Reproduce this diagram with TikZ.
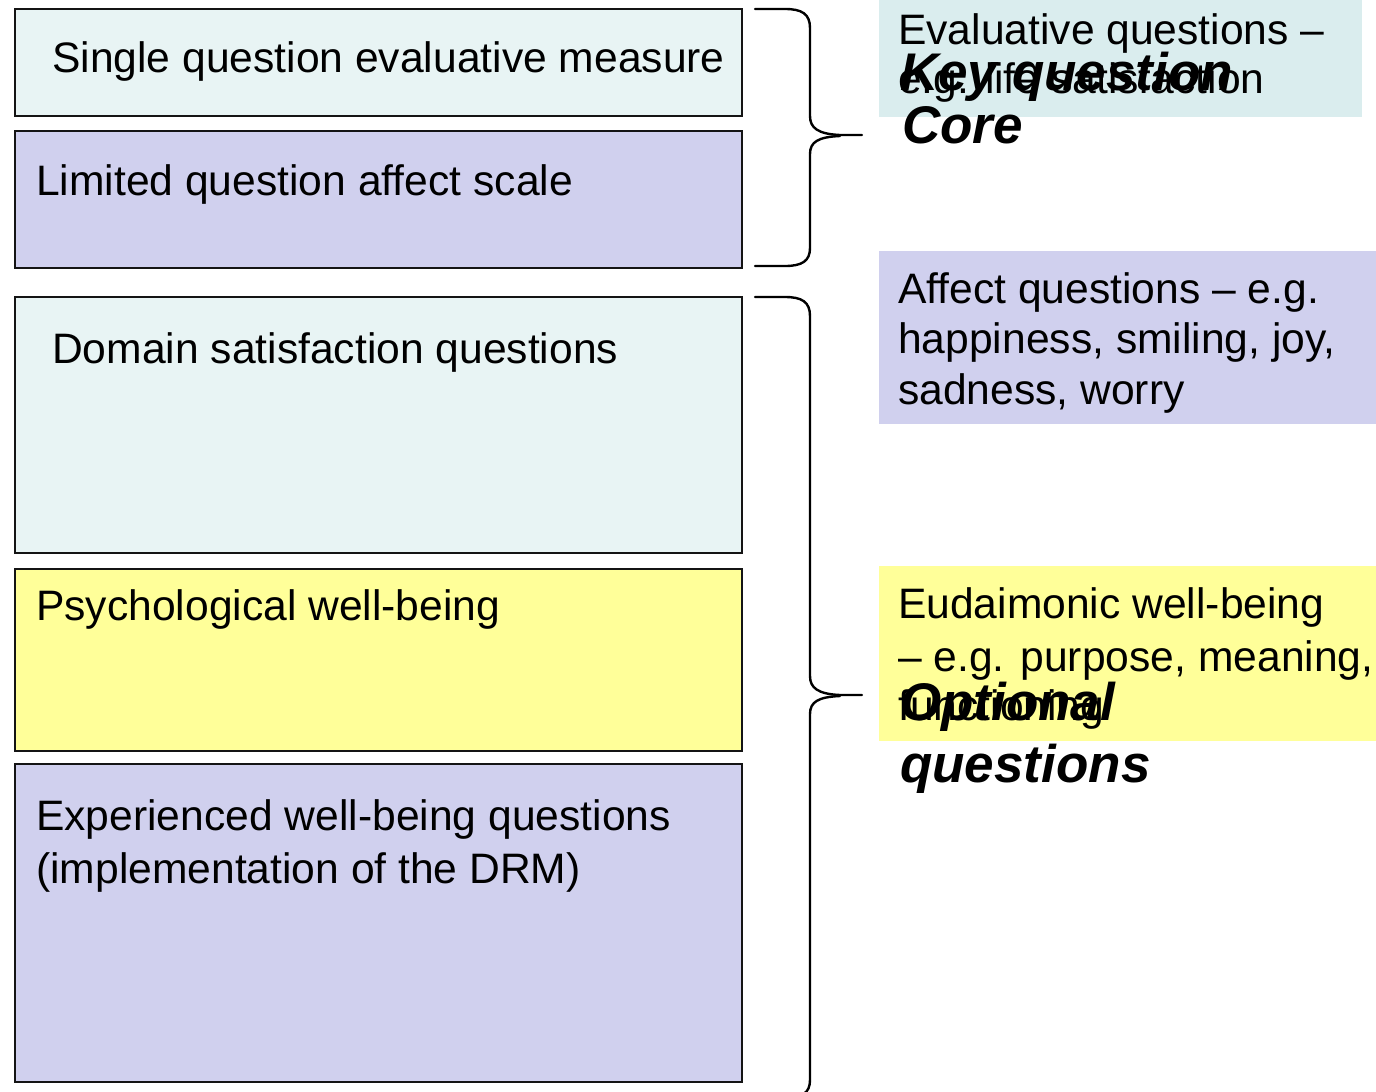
\documentclass[tikz,border=0pt]{standalone}
\usepackage{fontspec}
\setmainfont{Liberation Sans}
\definecolor{paleteal}{HTML}{E8F4F4}
\definecolor{tealnote}{HTML}{DAEDEE}
\definecolor{lavender}{HTML}{D0D0EE}
\definecolor{softyellow}{HTML}{FFFF99}
\definecolor{edge}{HTML}{141414}
\tikzset{
  qbox/.style={draw=edge, line width=2.4pt, rectangle, inner sep=0pt, anchor=north west},
  notebox/.style={rectangle, inner sep=0pt, anchor=north west},
  txt/.style={inner sep=0pt, anchor=base west, font=\fontsize{42.6}{50}\selectfont},
  tag/.style={inner sep=0pt, anchor=base west, font=\fontsize{53}{60}\selectfont\bfseries\itshape},
  brace/.style={draw=black, line width=2.4pt, line cap=round, line join=round}
}
\begin{document}
\begin{tikzpicture}[x=1pt, y=-1pt]
  \useasboundingbox (0,0) rectangle (1376,1092);
  \clip (0,0) rectangle (1376,1092);
  \fill[white] (0,0) rectangle (1376,1092);

  % question blocks
  \node[qbox, fill=paleteal,   minimum width=727pt, minimum height=107pt] (single) at (14,8) {};
  \node[qbox, fill=lavender,   minimum width=727pt, minimum height=137pt] (limited) at (14,130) {};
  \node[qbox, fill=paleteal,   minimum width=727pt, minimum height=256pt] (domain) at (14,296) {};
  \node[qbox, fill=softyellow, minimum width=727pt, minimum height=182pt] (psych) at (14,568) {};
  \node[qbox, fill=lavender,   minimum width=727pt, minimum height=318pt] (experienced) at (14,763) {};

  \node[txt] (singleT) at (52,72) {Single question evaluative measure};
  \node[txt] (limitedT) at (36,195) {Limited question affect scale};
  \node[txt] (domainT) at (52,363) {Domain satisfaction questions};
  \node[txt] (psychT) at (36,620) {Psychological well-being};
  \node[txt] (expT1) at (36,830) {Experienced well-being questions};
  \node[txt] (expT2) at (36,883) {(implementation of the DRM)};

  % explanatory notes
  \node[notebox, fill=tealnote,   minimum width=483pt, minimum height=117pt] (evalN) at (879,0) {};
  \node[notebox, fill=lavender,   minimum width=497pt, minimum height=173pt] (affectN) at (879,251) {};
  \node[notebox, fill=softyellow, minimum width=497pt, minimum height=175pt] (eudN) at (879,566) {};

  \node[txt] (evalT1) at (898,44) {Evaluative questions –};
  \node[txt] (evalT2) at (898,93) {e.g. life satisfaction};
  \node[txt] (affT1) at (898,303) {Affect questions – e.g.};
  \node[txt] (affT2) at (898,353) {happiness, smiling, joy,};
  \node[txt] (affT3) at (898,404) {sadness, worry};
  \node[txt] (eudT1) at (898,618) {Eudaimonic well-being};
  \node[txt] (eudT2) at (898,671) {– e.g. purpose, meaning,};
  \node[txt] (eudT3) at (898,720) {functioning};

  % braces
  \draw[brace] (755,9) -- (785,9) .. controls (802,9) and (810,14) .. (810,28)
    -- (810,116) .. controls (810,128) and (818,134) .. (840,135) -- (862,135);
  \draw[brace] (840,136) .. controls (818,137) and (810,142) .. (810,154)
    -- (810,248) .. controls (810,261) and (802,266) .. (785,266) -- (755,266);

  \draw[brace] (755,297) -- (785,297) .. controls (802,297) and (810,302) .. (810,316)
    -- (810,676) .. controls (810,688) and (818,694) .. (840,695) -- (862,695);
  \draw[brace] (840,696) .. controls (818,697) and (810,702) .. (810,714)
    -- (810,1080) .. controls (810,1093) and (802,1098) .. (785,1098) -- (755,1098);

  % group labels
  \node[tag] (coreT1) at (900,90) {Key question};
  \node[tag] (coreT2) at (902,143) {Core};
  \node[tag] (optT1) at (900,720) {Optional};
  \node[tag] (optT2) at (900,782) {questions};
\end{tikzpicture}
\end{document}
